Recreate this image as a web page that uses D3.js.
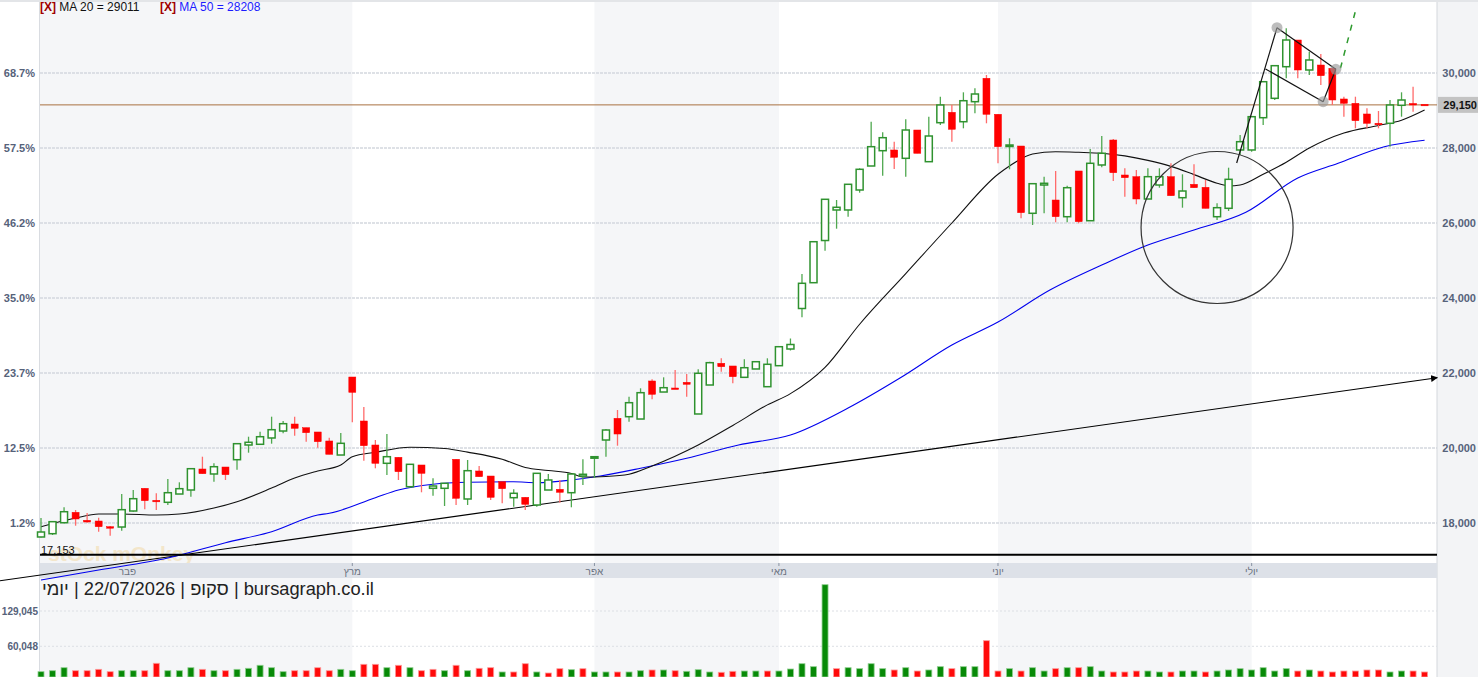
<!DOCTYPE html>
<html>
<head>
<meta charset="utf-8">
<title>Daily chart</title>
<script src="https://d3js.org/d3.v7.min.js"></script>
<style>
    body { margin: 0; background: #fff; font-family: Arial, "Liberation Sans", sans-serif; }
    svg { display: block; }
</style>
</head>
<body>
<div id="chart"></div>
<script>
// ---- data ----
const opens  = [17627,17715,18008,18285,18072,18053,17901,17893,18320,18925,18605,18552,18773,18880,19440,19307,19493,19688,20080,20099,20267,20453,20640,20541,20427,20187,19813,21893,20720,20080,19592,19752,18968,19547,18925,18925,19699,18640,19387,19253,19101,18675,18685,18480,18880,18899,18808,19253,19730,20213,20792,20835,20773,21787,21493,21600,21752,20907,21680,22259,22187,21885,22107,21635,22195,22640,23720,24408,25533,26347,26347,26880,27520,27928,27947,27725,28480,27635,28675,28952,28701,29235,29859,28899,28053,28053,26259,27013,26613,26168,27387,26061,27547,28213,27280,27235,26640,27013,27235,26675,27032,26952,26168,26392,27947,27947,28808,29325,30168,30880,30080,30213,30125,29307,29192,28907,28659,28659,29139,29187,29165];
const highs  = [18133,18050,18419,18347,18267,18141,17920,18773,18880,18925,18792,19173,19085,19467,19768,19592,19493,20115,20301,20435,20835,20720,20835,20541,20427,20275,20400,21893,21093,20213,20373,19752,19565,19547,19192,19059,19699,19680,19520,19253,19101,18899,18685,19325,19307,19147,19307,19699,19780,20507,21013,21368,21592,21832,21885,22080,21973,22099,22301,22392,22187,22365,22301,22392,22701,22920,24640,25501,26632,26613,27032,27459,28701,28419,28168,28765,28480,28835,29368,29147,29485,29592,29947,28899,28259,28053,27048,27235,27387,26995,27387,27973,28320,28240,27459,27413,27459,27459,27592,27299,27565,27147,26525,27475,28347,28835,29768,30213,31192,30880,30568,30507,30125,29368,29368,29059,28987,29280,29485,29635,29165];
const lows   = [17615,17680,17990,17928,18008,17768,17661,17795,18301,18365,18347,18480,18773,18701,19315,19101,19147,19421,19875,20080,20115,20392,20328,20168,20008,19832,19813,20685,19661,19459,19280,19147,18941,18819,18728,18453,18480,18480,19235,18613,18525,18435,18347,18435,18880,18541,18419,19013,19200,19768,20061,20701,20773,21299,21493,21581,21368,20907,21680,22035,21725,21885,22107,21635,22195,22600,23485,24408,25261,25848,26168,26808,27520,27261,27440,27235,27859,27635,28613,28168,28525,28925,28659,27592,27432,26125,25947,26259,26019,26019,25992,26061,27485,27120,26701,26499,26640,26941,26728,26408,26941,26392,26080,26320,27813,27901,28613,29280,29859,29859,29947,29680,29147,28835,28525,28525,28525,28035,28835,28968,29140];
const closes = [17760,18035,18301,18107,18027,17901,17875,18355,18648,18595,18579,18808,18915,19448,19315,19501,19288,20115,20152,20301,20488,20648,20525,20408,20168,19832,20125,21485,20061,19592,19768,19368,19565,19325,18987,19059,18659,19395,19235,18685,18915,18792,18499,19325,19147,18819,19307,19299,19768,20480,20373,21208,21475,21432,21608,21581,21699,21992,22275,22168,21901,22141,22301,22232,22701,22760,24392,25501,26632,26419,27032,27432,28035,28275,27752,28480,27859,28320,29147,28499,29261,29440,28899,28035,28080,26275,27048,27059,26168,26941,26035,27592,27859,27341,27208,26640,27235,27235,26728,26853,26941,26392,26408,27165,28168,28835,29768,30195,30880,30080,30347,29928,29280,29192,28728,28659,28640,29147,29280,29165,29150];
const volumes = [10400,12300,18200,12300,12300,15000,10400,12300,12300,12300,26800,12300,12300,18200,15000,12300,12300,15000,17000,22900,18200,10400,12300,12300,18200,12300,15000,12300,24800,24800,18200,22900,18200,12300,15000,12300,22900,12300,17000,18200,9800,9800,26000,9800,7800,16200,14300,16200,9800,9800,9800,9800,12300,13700,13700,12300,11100,14300,9800,9200,11100,11700,11700,11700,11700,15600,26000,20200,180500,16300,18200,16300,26000,16300,13700,18200,11700,13700,20200,16300,20200,20200,71000,11700,16300,11700,18200,11700,16300,18200,18200,20200,11700,9800,9800,11700,11700,9800,9800,11700,11700,9800,11700,13700,16300,13700,18200,11700,16300,11700,13700,11700,9800,11700,11700,13700,13700,9800,11700,11700,9800];

// moving averages sampled at candle indexes
const ma20Idx = [0,3,5,7,10,12,15,17,20,22,24,26,27,29,32,35,37,40,42,44,46,47,49,51,53,57,60,63,65,68,71,75,79,83,84,86,88,90,92,94,96,98,100,102,103,104,106,108,110,113,116,118,120];
const ma20Val = [17900,18133,18240,18240,18213,18240,18400,18568,18933,19200,19387,19547,19768,19885,20019,19985,19890,19700,19480,19400,19320,19225,19240,19300,19520,20080,20600,21150,21450,22150,23300,24650,26000,27300,27520,27840,27900,27885,27859,27790,27670,27510,27290,27060,26990,27013,27300,27620,28000,28400,28600,28740,29011];
const ma50Idx = [0,5,11,16,20,24,25,29,31,34,37,41,43,46,48.5,52,56,60.5,65,70,74.5,79,83,87.5,92,96,100,104.5,109,112.5,116.5,120];
const ma50Val = [16480,16747,17067,17475,17768,18213,18259,18675,18880,19032,19085,19101,19075,19147,19253,19459,19725,20080,20347,21067,21867,22747,23360,24213,24880,25413,25813,26285,27200,27592,28035,28208];

const priceTicks = [18000,20000,22000,24000,26000,28000,30000];
const pctLabels  = ["1.2%","12.5%","23.7%","35.0%","46.2%","57.5%","68.7%"];
const volTicks   = [60048,129045];
const months     = ["פבר","מרץ","אפר","מאי","יוני","יולי"];
const monthStart = [0,27,48,64,83,105];
const monthLabelIdx = [7.5,27,48,64,83,105];
const lastPrice = 29150;
const supportLevel = 17153;
const ma20Last = 29011, ma50Last = 28208;

// drawn annotations, as [candle index, price]
const trendLine = [[-3.56,16461],[121.1,21875]];
const flagPole  = [[103.7,27600],[107.2,31208]];
const flagTop   = [[107.2,31208],[112.3,30099]];
const flagBot   = [[106.2,30107],[111.2,29235]];
const flagSide  = [[111.2,29235],[112.3,30099]];
const flagDots  = [[107.2,31208],[112.3,30099],[111.2,29235]];
const targetLine = [[112.7,30125],[114.1,31768]];
const circleMark = {idx: 102, price: 25880, span: 2027};

// ---- layout ----
const width = 1478, height = 677;
const plotL = 40, plotR = 1437;
const stripTop = 563, stripBot = 578;

const x = d3.scaleLinear().domain([0,120]).range([41, 1424.6]);
const y = d3.scaleLinear().domain([18000,30000]).range([523,73]);
const yv = d3.scaleLinear().domain([0,129045]).range([677,611]);

const svg = d3.select("#chart").append("svg")
    .attr("width", width).attr("height", height)
    .style("font-family", "Arial, 'Liberation Sans', sans-serif");

svg.append("defs").append("marker")
    .attr("id", "arrow").attr("viewBox", "0 0 10 10")
    .attr("refX", 9).attr("refY", 5)
    .attr("markerWidth", 7).attr("markerHeight", 7)
    .attr("markerUnits", "userSpaceOnUse")
    .attr("orient", "auto")
    .append("path").attr("d", "M0,0L10,5L0,10Z").attr("fill", "#000");

// right panel + top line
svg.append("rect").attr("x", plotR).attr("y", 0).attr("width", width - plotR).attr("height", height).attr("fill", "#f3f4f6");
svg.append("line").attr("x1", plotR).attr("x2", plotR).attr("y1", 0).attr("y2", height).attr("stroke", "#d4d7dc");
svg.append("rect").attr("x", 0).attr("y", 0).attr("width", width).attr("height", 2).attr("fill", "#e3e5e8");

// month stripes
const bounds = monthStart.map(i => x(i));
bounds[0] = plotL;
bounds.push(plotR);
months.forEach((m, i) => {
    if (i % 2 === 0) {
        [[2, stripTop], [stripBot, height]].forEach(([t, b]) => {
            svg.append("rect").attr("x", bounds[i]).attr("y", t)
                .attr("width", bounds[i + 1] - bounds[i]).attr("height", b - t)
                .attr("fill", "#f5f6f8");
        });
    }
});
svg.append("line").attr("x1", plotL - 0.5).attr("x2", plotL - 0.5).attr("y1", 2).attr("y2", height).attr("stroke", "#d9dce1");

// grid
svg.selectAll(".grid").data(priceTicks).enter().append("line")
    .attr("x1", plotL).attr("x2", plotR)
    .attr("y1", d => y(d)).attr("y2", d => y(d))
    .attr("stroke", "#d3d7de").attr("stroke-width", 1.6).attr("stroke-dasharray", "3,1");
svg.selectAll(".vgrid").data(volTicks).enter().append("line")
    .attr("x1", plotL).attr("x2", plotR)
    .attr("y1", d => yv(d)).attr("y2", d => yv(d))
    .attr("stroke", "#dcdfe4").attr("stroke-dasharray", "2,2");

// watermark
svg.append("text").attr("x", 48).attr("y", 561)
    .attr("font-size", 21).attr("font-weight", "bold")
    .attr("fill", "#f2d9a6").attr("opacity", 0.55)
    .text("stOck mOnkey");

// x strip
svg.append("rect").attr("x", plotL).attr("y", stripTop).attr("width", plotR - plotL).attr("height", stripBot - stripTop).attr("fill", "#dde1e8");
monthStart.slice(1).forEach(i => {
    svg.append("line").attr("x1", x(i)).attr("x2", x(i)).attr("y1", stripTop).attr("y2", stripTop + 3).attr("stroke", "#8a93a3");
});
svg.selectAll(".mlab").data(months).enter().append("text")
    .attr("x", (d, i) => x(monthLabelIdx[i])).attr("y", 575)
    .attr("text-anchor", "middle").attr("font-size", 10).attr("fill", "#6b7280")
    .text(d => d);

// trend line
const pt = d => [x(d[0]), y(d[1])];
svg.append("line")
    .attr("x1", pt(trendLine[0])[0]).attr("y1", pt(trendLine[0])[1])
    .attr("x2", pt(trendLine[1])[0]).attr("y2", pt(trendLine[1])[1])
    .attr("stroke", "#000").attr("stroke-width", 1.1).attr("marker-end", "url(#arrow)");

// moving averages
const maLine = d3.line().x(d => x(d[0])).y(d => y(d[1])).curve(d3.curveMonotoneX);
svg.append("path").attr("d", maLine(ma50Idx.map((d, i) => [d, ma50Val[i]])))
    .attr("fill", "none").attr("stroke", "#0000ee").attr("stroke-width", 1.1);
svg.append("path").attr("d", maLine(ma20Idx.map((d, i) => [d, ma20Val[i]])))
    .attr("fill", "none").attr("stroke", "#111").attr("stroke-width", 1.1);

// last price line
svg.append("line").attr("x1", plotL).attr("x2", plotR)
    .attr("y1", y(lastPrice)).attr("y2", y(lastPrice))
    .attr("stroke", "#a87040").attr("stroke-width", 1);

// candles
const candles = d3.range(opens.length).map(i => ({
    i, o: opens[i], h: highs[i], l: lows[i], c: closes[i]
}));
const bodyW = 7;
const g = svg.append("g");
g.selectAll(".wick").data(candles).enter().append("line")
    .attr("x1", d => x(d.i)).attr("x2", d => x(d.i))
    .attr("y1", d => y(d.h)).attr("y2", d => y(d.l))
    .attr("stroke", d => d.c >= d.o ? "#4fa84f" : "#ff6b6b").attr("stroke-width", 1.3);
g.selectAll(".body").data(candles).enter().append("rect")
    .attr("x", d => x(d.i) - bodyW / 2)
    .attr("y", d => y(Math.max(d.o, d.c)))
    .attr("width", bodyW)
    .attr("height", d => Math.max(1.5, Math.abs(y(d.o) - y(d.c))))
    .attr("fill", d => d.c >= d.o ? "#fff" : "#ff0000")
    .attr("stroke", d => d.c >= d.o ? "#2f922f" : "#ff0000")
    .attr("stroke-width", d => d.c >= d.o ? 1.5 : 0.5);

// support line
svg.append("line").attr("x1", plotL).attr("x2", plotR)
    .attr("y1", y(supportLevel)).attr("y2", y(supportLevel))
    .attr("stroke", "#000").attr("stroke-width", 2.2);
svg.append("text").attr("x", 41).attr("y", 553.5).attr("font-size", 11).attr("fill", "#111")
    .text(d3.format(",")(supportLevel));

// annotations
[flagPole, flagTop, flagBot, flagSide].forEach(seg => {
    svg.append("line")
        .attr("x1", pt(seg[0])[0]).attr("y1", pt(seg[0])[1])
        .attr("x2", pt(seg[1])[0]).attr("y2", pt(seg[1])[1])
        .attr("stroke", "#111").attr("stroke-width", 1.2);
});
svg.append("line")
    .attr("x1", pt(targetLine[0])[0]).attr("y1", pt(targetLine[0])[1])
    .attr("x2", pt(targetLine[1])[0]).attr("y2", pt(targetLine[1])[1])
    .attr("stroke", "#2e9a2e").attr("stroke-width", 1.5).attr("stroke-dasharray", "6,7");
svg.selectAll(".dot").data(flagDots).enter().append("circle")
    .attr("cx", d => pt(d)[0]).attr("cy", d => pt(d)[1]).attr("r", 5.5)
    .attr("fill", "#9a9a9a").attr("opacity", 0.65);
svg.append("circle")
    .attr("cx", x(circleMark.idx)).attr("cy", y(circleMark.price))
    .attr("r", y(circleMark.price) - y(circleMark.price + circleMark.span))
    .attr("fill", "none").attr("stroke", "#333").attr("stroke-width", 1.2);

// volume
const volUp = i => i === 0 ? closes[0] >= opens[0] : closes[i] >= closes[i - 1];
svg.selectAll(".vol").data(volumes).enter().append("rect")
    .attr("x", (d, i) => x(i) - 3)
    .attr("y", d => yv(d))
    .attr("width", 6)
    .attr("height", d => yv(0) - yv(d))
    .attr("fill", (d, i) => volUp(i) ? "#078a07" : "#ff0a0a")
    .attr("stroke", (d, i) => volUp(i) ? "#8fcf8f" : "#ff9a9a")
    .attr("stroke-width", 0.8);

// axis labels
svg.selectAll(".pl").data(priceTicks).enter().append("text")
    .attr("x", 35).attr("y", d => y(d) + 4)
    .attr("text-anchor", "end").attr("font-size", 11).attr("font-weight", "bold").attr("fill", "#56627a")
    .text((d, i) => pctLabels[i]);
svg.selectAll(".pr").data(priceTicks).enter().append("text")
    .attr("x", 1476).attr("y", d => y(d) + 4)
    .attr("text-anchor", "end").attr("font-size", 11).attr("font-weight", "bold").attr("fill", "#56627a")
    .text(d => d3.format(",")(d));
svg.selectAll(".vl").data(volTicks).enter().append("text")
    .attr("x", 38).attr("y", d => yv(d) + 4)
    .attr("text-anchor", "end").attr("font-size", 10).attr("font-weight", "bold").attr("fill", "#56627a")
    .text(d => d3.format(",")(d));

// last price tag
svg.append("rect").attr("x", plotR + 1).attr("y", y(lastPrice) - 8).attr("width", width - plotR - 1).attr("height", 16).attr("fill", "#c3c3c3");
svg.append("text").attr("x", 1477).attr("y", y(lastPrice) + 4)
    .attr("text-anchor", "end").attr("font-size", 11).attr("font-weight", "bold").attr("fill", "#111")
    .text(d3.format(",")(lastPrice));

// legend
const leg = svg.append("text").attr("x", 40).attr("y", 11).attr("font-size", 12);
leg.append("tspan").attr("fill", "#a00000").attr("font-weight", "bold").text("[X]");
leg.append("tspan").attr("fill", "#111").text(" MA 20 = " + ma20Last);
const leg2 = svg.append("text").attr("x", 160).attr("y", 11).attr("font-size", 12);
leg2.append("tspan").attr("fill", "#a00000").attr("font-weight", "bold").text("[X]");
leg2.append("tspan").attr("fill", "#1c1cff").text(" MA 50 = " + ma50Last);

// caption
svg.append("text").attr("x", 42).attr("y", 595).attr("font-size", 18.3).attr("fill", "#222")
    .attr("direction", "ltr")
    .text("יומי\u200E | 22/07/2026 | סקופ\u200E | bursagraph.co.il");
</script>
</body>
</html>
